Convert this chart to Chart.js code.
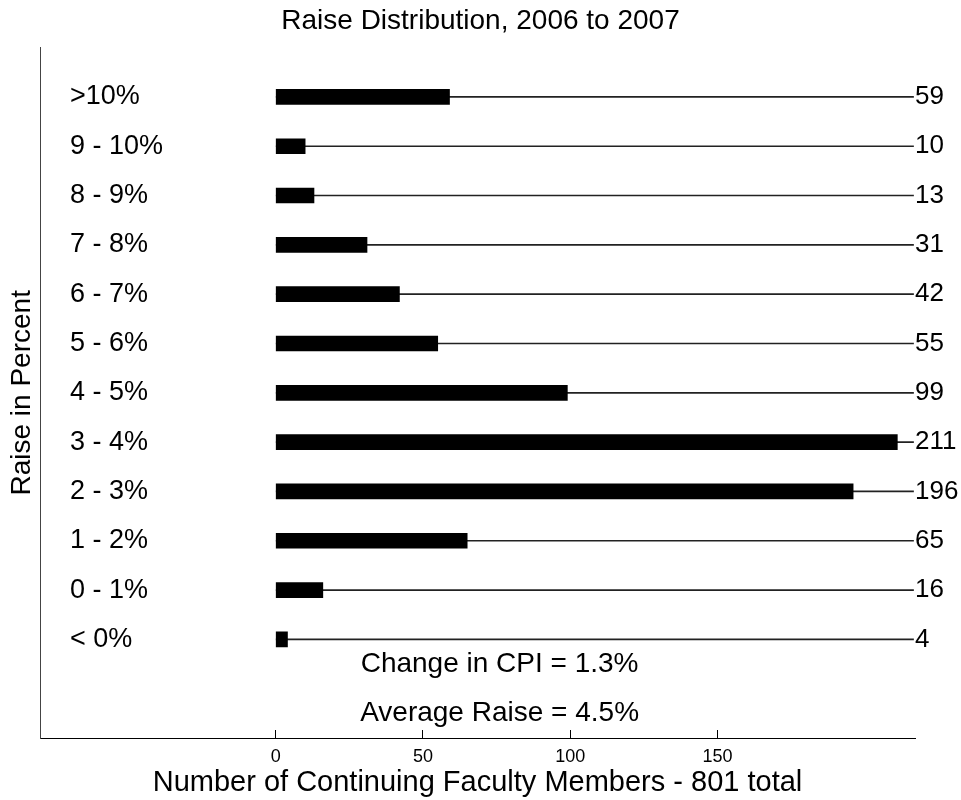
<!DOCTYPE html>
<html>
<head>
<meta charset="utf-8">
<script src="https://cdn.jsdelivr.net/npm/chart.js@4.4.0/dist/chart.umd.min.js"></script>
<style>
    html, body { margin: 0; padding: 0; background: #fff; }
    #wrap { width: 961px; height: 800px; }
</style>
</head>
<body>
<div id="wrap"><canvas id="raiseChart"></canvas></div>
<script>
// Raise bands, top to bottom as in the chart
const raiseBands = ['>10%', '9 - 10%', '8 - 9%', '7 - 8%', '6 - 7%', '5 - 6%', '4 - 5%', '3 - 4%', '2 - 3%', '1 - 2%', '0 - 1%', '< 0%'];
const facultyCounts = [59, 10, 13, 31, 42, 55, 99, 211, 196, 65, 16, 4];
const xTickValues = [0, 50, 100, 150];
const noteLines = ['Change in CPI = 1.3%', 'Average Raise = 4.5%'];

const FONT = 'Arial, "Liberation Sans", sans-serif';
const LINE_END = 216.5;   // thin guide line runs out to here

// Notes written under the last row
const notesPlugin = {
    id: 'notes',
    afterDatasetsDraw(chart) {
        const ctx = chart.ctx;
        const x = chart.scales.x;
        const y = chart.scales.y;
        ctx.save();
        ctx.fillStyle = '#000';
        ctx.font = '28px ' + FONT;
        ctx.textAlign = 'center';
        ctx.textBaseline = 'middle';
        noteLines.forEach((txt, i) => {
            ctx.fillText(txt, x.getPixelForValue(76), y.getPixelForValue(11.5 + i));
        });
        ctx.restore();
    }
};

const bandTicks = scale => {
    scale.ticks = raiseBands.map((_, i) => ({ value: i }));
};

new Chart(document.getElementById('raiseChart'), {
    type: 'bar',
    data: {
        datasets: [
            {
                data: facultyCounts.map((v, i) => ({ x: v, y: i })),
                backgroundColor: '#000',
                barThickness: 15,
                grouped: false
            },
            {
                data: raiseBands.map((_, i) => ({ x: [0, LINE_END], y: i })),
                backgroundColor: '#222',
                barThickness: 1,
                grouped: false
            }
        ]
    },
    plugins: [notesPlugin],
    options: {
        indexAxis: 'y',
        responsive: true,
        maintainAspectRatio: false,
        animation: false,
        layout: { padding: 0 },
        plugins: {
            legend: { display: false },
            tooltip: { enabled: false },
            title: {
                display: true,
                text: 'Raise Distribution, 2006 to 2007',
                color: '#000',
                font: { family: FONT, size: 28, weight: 'normal' },
                padding: { top: 4, bottom: 10 }
            }
        },
        scales: {
            x: {
                type: 'linear',
                min: -80,
                max: 217,
                afterBuildTicks: scale => {
                    scale.ticks = xTickValues.map(v => ({ value: v }));
                },
                afterFit: scale => { scale.height = 62; },
                grid: { drawOnChartArea: false, tickLength: -8, color: '#000' },
                border: { color: '#000', width: 1 },
                ticks: { color: '#000', padding: 16, font: { family: FONT, size: 18 } },
                title: {
                    display: true,
                    text: 'Number of Continuing Faculty Members - 801 total',
                    color: '#000',
                    font: { family: FONT, size: 29 },
                    padding: { top: 0, bottom: 0 }
                }
            },
            y: {
                type: 'linear',
                reverse: true,
                offset: false,
                min: -1,
                max: 13,
                afterBuildTicks: bandTicks,
                afterFit: scale => { scale.width = 40; },
                grid: { display: false, drawTicks: false },
                border: { color: '#444', width: 1 },
                ticks: {
                    mirror: true,
                    padding: 30,
                    autoSkip: false,
                    color: '#000',
                    font: { family: FONT, size: 27 },
                    callback: v => raiseBands[v]
                },
                title: {
                    display: true,
                    text: 'Raise in Percent',
                    color: '#000',
                    font: { family: FONT, size: 28 },
                    padding: { top: 5, bottom: 0 }
                }
            },
            y2: {
                type: 'linear',
                position: 'right',
                reverse: true,
                offset: false,
                min: -1,
                max: 13,
                afterBuildTicks: bandTicks,
                afterFit: scale => { scale.width = 46; },
                grid: { display: false, drawTicks: false },
                border: { display: false },
                ticks: {
                    padding: 0,
                    autoSkip: false,
                    color: '#000',
                    font: { family: FONT, size: 26 },
                    callback: v => facultyCounts[v]
                }
            }
        }
    }
});
</script>
</body>
</html>
